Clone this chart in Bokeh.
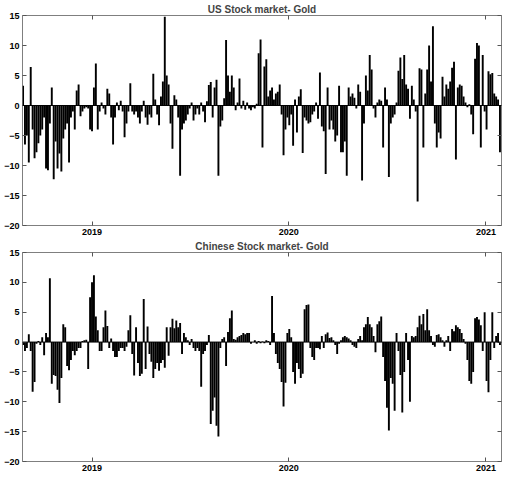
import numpy as np
from bokeh.plotting import figure
from bokeh.models import (Range1d, FixedTicker, DatetimeTickFormatter, LinearAxis,
                          DatetimeAxis, Span, CustomLabelingPolicy)
from bokeh.layouts import column
from bokeh.embed import file_html
from bokeh.resources import INLINE

# ---------------- data (~3.5-day samples) ----------------
titles = ["US Stock market- Gold", "Chinese Stock market- Gold"]
start_date = "2018-08-26"
step_hours = 85.3
year_ticks = ["2019-01-01", "2020-01-01", "2021-01-01"]
y_ticks = [-20, -15, -10, -5, 0, 5, 10, 15]

us_gold = [
    3.3, -6.5, -5, -9.5, 6.4, -4, -8.8, -7.8, -6.3, -5, -4, -2, -10.5, -10.8, -3, 3,
    -12.3, -6, -10.5, -8, -11, -5.5, -4, -3, -9.5, -2, -1, -4, 2.5, 3.5, -1.8, -1,
    -0.5, -0.3, -0.5, -4, -4.3, 3, 7, -4, -1, 0.5, -0.5, -1.5, 2.8, 2, -2, -6.5,
    -2, 0.5, -0.8, 0.8, -1, -5.3, -3, -1, 3.7, -1, -1.5, -1, -2, -3, -1, 0.8,
    -2, -3.2, -1.5, -2, 5.3, 1, -1.5, -3.3, 1.5, 4, 14.8, 5, 3.5, -3, -7.2, 1.7,
    1, -2, -11.7, -4, -3, -2.5, -1.5, -0.5, 0.5, -2.5, -1.5, -0.5, -1.5, 0.5, -1, -2.8,
    0.7, 3.4, 3.9, -2, 3, 4.3, -11.7, -3.5, -2.5, 1.2, 10.9, 5, 2.3, 5, 3, -0.8,
    0.5, 4.5, -0.5, 0.8, -0.7, 0.5, -0.5, -0.8, -0.3, -0.5, 0.3, 8.7, 11, -7, 6.5, 7.7,
    1.5, 2.5, 3, 1, 2, 2.3, 3.5, -1.5, -8.3, -4, -2, -3.3, -1.5, -6.7, 1, -4.5,
    1.5, 2.7, -7.9, -2, -2.5, -3, -2.8, -1.5, -1, 0.5, -2.2, 5.5, -3.5, -4.3, -11.4, 3,
    -4, -2.5, -4, -6, -5, 3.3, -7.8, -7.8, -6, -11.7, 3, 1.5, 2, 1.3, -0.5, 3.5,
    2.3, -12.5, -3, 5, 2.5, 8.4, 6, -0.5, -2, 0.5, 1, 0.8, -7, 3, 1, -11.9,
    -3, -2, -1.5, 0.5, 5.8, 8, 4.4, 8.4, 3.5, 2.8, -2.2, 3.3, 1, -1, -16, 6.2,
    6.0, -7, 2, 6, 10, 4, 13.2, -3, -7, -4.5, -5.5, 4.8, 1.5, 3.5, 2.8, 4,
    6.3, 7.3, -9, 3, 3.5, 3.3, 1.5, 0.5, -0.3, 0.2, -1.5, -4.8, 7.8, 10.4, 10, -7,
    8.4, -1, -4, 5.7, 5.2, 5.4, 2, 1.5, 1, -7.8,
]

cn_gold = [
    -0.5, -1.5, -1, 1.3, -1.5, -8.3, -6.7, -0.3, 0.2, -0.5, 0.8, -2.2, 1.5, 0.8, 10.7, -7,
    -5.5, -5.7, -8, -10.2, -6, 3, 2.5, -4, -4.7, -3, -1.5, -2.2, -1.5, -1, -1, 0.2,
    0.3, 0.4, -4.5, 7.5, 10, 11.2, 4.3, 2, -1.5, -1.5, 2.5, 5.3, 2.7, -1, 0.6, -1.5,
    -2.5, -2.5, -1.5, -1, -1, -1.5, -0.8, 2, 4.5, -2, -5.6, 2.5, -3.5, -5.7, -5.3, 7.2,
    -4.5, 2.6, -2, -3.3, -6, -4.5, -3.5, -4.8, -3.5, -3, -4.3, 2.5, -2.3, 2.5, 3.9, 2.3,
    3.6, 2.5, 3.2, -2, 1.5, 0.8, 0.3, -0.5, 0.5, -1, -1.5, -1, -1.5, -7.5, -2, -1.5,
    -0.5, 1.2, -13.7, -11.5, -9.3, -14, -15.8, -1, 0.5, 0.8, -4, 1.7, 4, 5.3, 0.5, 0.4,
    0.8, 1, 1.2, 1.5, 1.3, 1.5, 1.5, -0.3, 0, 0.3, -0.3, 0.2, -0.2, 0.1, -0.2, 0.3,
    0.2, -0.5, 7.7, 1.5, -2, -3.5, -4.5, -6.7, -10.8, -6.8, 1.5, 2.2, 0.8, -5, -7, -3.5,
    -4.5, -6, -5.3, 5.5, 6.2, 6.3, -1, -2.5, -3, -1, -1, -1.2, 1, -1, 1.3, 1.6,
    0.7, 0.8, 0.3, -0.5, -2, -0.3, 0.3, 0.8, 1, 0.8, 0.6, 0.3, -0.5, -0.8, -1, 0.5,
    1, 0.3, 2.5, 3, 4.2, 3, 2.5, 1, -1.7, 3, 3.5, 4.3, -2.5, -6.5, -11, -14.8,
    -6, -7, -11.5, 1.5, -1.5, -5.5, -11.8, -5, 1.5, -3, -10, 1, 0.8, 1, 2.5, 4.4,
    3, 4.7, 2, 5.5, 2, 1, -0.5, -0.8, 1.2, 1.3, 0.8, 0.3, -0.8, 0.3, 1, -1.5,
    2.2, 1.8, 2.8, 2.5, 2.2, 1.5, 0.5, -0.3, -3, -6.5, -7, -5, 4, 4.2, 3.8, 2.8,
    -1.5, 5, -6.5, -8.4, -3, 5, -1, 1, 1.5, -0.5,
]

x_start = "2018-08-24T23:00"
x_end = "2021-01-29T20:00"


def to_ms(s):
    return np.datetime64(s, "ms").astype("int64").astype(float)


def make_panel(title, vals, height):
    n = len(vals)
    step_ms = step_hours * 3600 * 1000
    xs = to_ms(start_date) + np.arange(n) * step_ms
    p = figure(width=504, height=height, x_axis_type="datetime",
               output_backend="svg", toolbar_location=None, title=title,
               x_range=Range1d(to_ms(x_start), to_ms(x_end)),
               y_range=Range1d(-20, 15),
               min_border_left=22, min_border_right=3,
               min_border_top=0, min_border_bottom=0)
    p.vbar(x=xs, top=vals, bottom=0, width=step_ms, fill_color="black",
           line_color=None)
    p.add_layout(Span(location=0, dimension="width", line_color="black",
                      line_width=1))
    p.xgrid.visible = False
    p.ygrid.visible = False
    p.outline_line_color = "#7f7f7f"
    p.outline_line_width = 1
    p.background_fill_color = "white"
    p.border_fill_color = "white"

    p.title.align = "center"
    p.title.text_font = "Liberation Sans"
    p.title.text_font_size = "10px"
    p.title.text_font_style = "bold"
    p.title.standoff = 2

    xt = FixedTicker(ticks=[to_ms(d) for d in year_ticks])
    yt = FixedTicker(ticks=y_ticks)
    fmt = DatetimeTickFormatter(years="%Y", months="%Y", days="%Y")
    overrides = {v: (str(v).replace("-", "\u2212")) for v in y_ticks}

    p.xaxis.ticker = xt
    p.xaxis.formatter = fmt
    p.yaxis.ticker = yt
    p.yaxis.major_label_overrides = overrides

    no_labels = CustomLabelingPolicy(code="return null")
    p.add_layout(LinearAxis(ticker=yt, major_label_policy=no_labels), "right")
    p.add_layout(DatetimeAxis(ticker=xt, formatter=fmt,
                              major_label_policy=no_labels), "above")

    for ax in p.axis:
        ax.axis_line_color = None
        ax.major_tick_in = 4
        ax.major_tick_out = 0
        ax.major_tick_line_color = "#555555"
        ax.minor_tick_line_color = None
        ax.major_label_text_font = "Liberation Sans"
        ax.major_label_text_font_size = "9px"
        ax.major_label_text_font_style = "bold"
        ax.major_label_text_color = "black"
        ax.major_label_standoff = 3
    for ax in p.right + p.above:
        if hasattr(ax, "major_label_standoff"):
            ax.major_label_standoff = 0
            ax.major_label_text_font_size = "0px"
    return p


p1 = make_panel(titles[0], us_gold, 237)
p2 = make_panel(titles[1], cn_gold, 236)
layout = column(p1, p2, spacing=0)

open("out.html", "w").write(file_html(layout, INLINE))
